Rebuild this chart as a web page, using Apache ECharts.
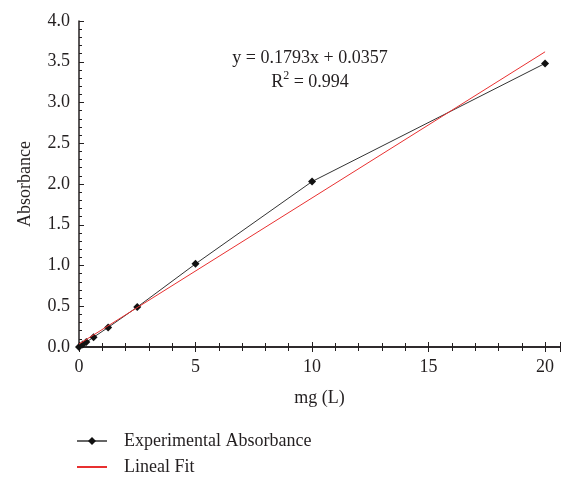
<!DOCTYPE html>
<html>
<head>
<meta charset="utf-8">
<script src="https://cdn.jsdelivr.net/npm/echarts@6/dist/echarts.min.js"></script>
<style>
  html, body { margin: 0; padding: 0; background: #fff; }
  #chart { width: 562px; height: 477px; }
</style>
</head>
<body>
<div id="chart"></div>
<script>
// concentration (mg) and measured absorbance
var concentration = [0, 0.156, 0.3125, 0.625, 1.25, 2.5, 5, 10, 20];
var absorbance = [0, 0.03, 0.06, 0.12, 0.24, 0.49, 1.02, 2.03, 3.48];
// fitted line end points, y = 0.1793x + 0.0357
var fitX = [0, 20];
var fitY = [0.036, 3.622];
var xTicks = [0, 5, 10, 15, 20];

var font = '"Liberation Serif", "DejaVu Serif", serif';
var ink = '#231f20';
var chart = echarts.init(document.getElementById('chart'));

var expData = concentration.map(function (x, i) { return [x, absorbance[i]]; });
var fitData = fitX.map(function (x, i) { return [x, fitY[i]]; });

var xBase = {
    type: 'value',
    min: 0,
    max: 20.64,
    interval: 5,
    splitLine: { show: false },
    axisLine: { lineStyle: { color: ink, width: 1.5 } }
};

option = {
    animation: false,
    grid: { left: 79, right: 2, top: 21, bottom: 130 },
    xAxis: [
        Object.assign({}, xBase, {
            name: 'mg (L)',
            nameLocation: 'middle',
            nameGap: 42,
            nameTextStyle: { fontFamily: font, fontSize: 18, color: ink },
            axisTick: { show: true, inside: false, length: 5, lineStyle: { color: ink } },
            minorTick: { show: true, splitNumber: 5, length: 4, lineStyle: { color: ink } },
            axisLabel: {
                fontFamily: font, fontSize: 18, color: ink, margin: 11,
                showMaxLabel: false,
                formatter: function (v) { return xTicks.indexOf(v) >= 0 ? String(v) : ''; }
            }
        }),
        Object.assign({}, xBase, {
            position: 'bottom',
            axisTick: { show: true, inside: true, length: 5, lineStyle: { color: ink } },
            minorTick: { show: true, splitNumber: 5, length: 4, lineStyle: { color: ink } },
            axisLabel: { show: false }
        })
    ],
    yAxis: {
        type: 'value',
        min: 0,
        max: 4,
        interval: 0.5,
        name: 'Absorbance',
        nameLocation: 'middle',
        nameGap: 45,
        nameTextStyle: { fontFamily: font, fontSize: 18, color: ink },
        splitLine: { show: false },
        axisLine: { show: true, lineStyle: { color: ink, width: 1.5 } },
        axisTick: { show: true, inside: true, length: 5, lineStyle: { color: ink } },
        minorTick: { show: true, splitNumber: 5, length: 3, lineStyle: { color: ink } },
        axisLabel: {
            fontFamily: font, fontSize: 18, color: ink, margin: 9,
            formatter: function (v) { return v.toFixed(1); }
        }
    },
    legend: {
        orient: 'vertical',
        left: 76,
        top: 432,
        padding: 0,
        itemWidth: 30,
        itemHeight: 10,
        itemGap: 8,
        textStyle: { fontFamily: font, fontSize: 18, color: ink, padding: [0, 0, 0, 12] },
        data: [
            { name: 'Experimental Absorbance', lineStyle: { color: '#666' } },
            { name: 'Lineal Fit', itemStyle: { opacity: 0 } }
        ]
    },
    graphic: [{
        type: 'text',
        x: 310,
        y: 46,
        style: {
            text: 'y = 0.1793x + 0.0357\n{s|R}{sup|2}{s| = 0.994}',
            fontFamily: font,
            fontSize: 18,
            fill: ink,
            align: 'center',
            lineHeight: 24,
            rich: {
                s: { fontFamily: font, fontSize: 18, fill: ink },
                sup: { fontFamily: font, fontSize: 12, fill: ink, verticalAlign: 'top', padding: [0, 0, 6, 0] }
            }
        }
    }],
    series: [
        {
            name: 'Lineal Fit',
            type: 'line',
            data: fitData,
            symbol: 'none',
            lineStyle: { color: '#e83030', width: 1 },
            itemStyle: { color: '#e83030' },
            z: 3
        },
        {
            name: 'Experimental Absorbance',
            type: 'line',
            data: expData,
            symbol: 'diamond',
            symbolSize: 8,
            lineStyle: { color: '#333', width: 1 },
            itemStyle: { color: '#111' },
            z: 2
        }
    ]
};
chart.setOption(option);
</script>
</body>
</html>
